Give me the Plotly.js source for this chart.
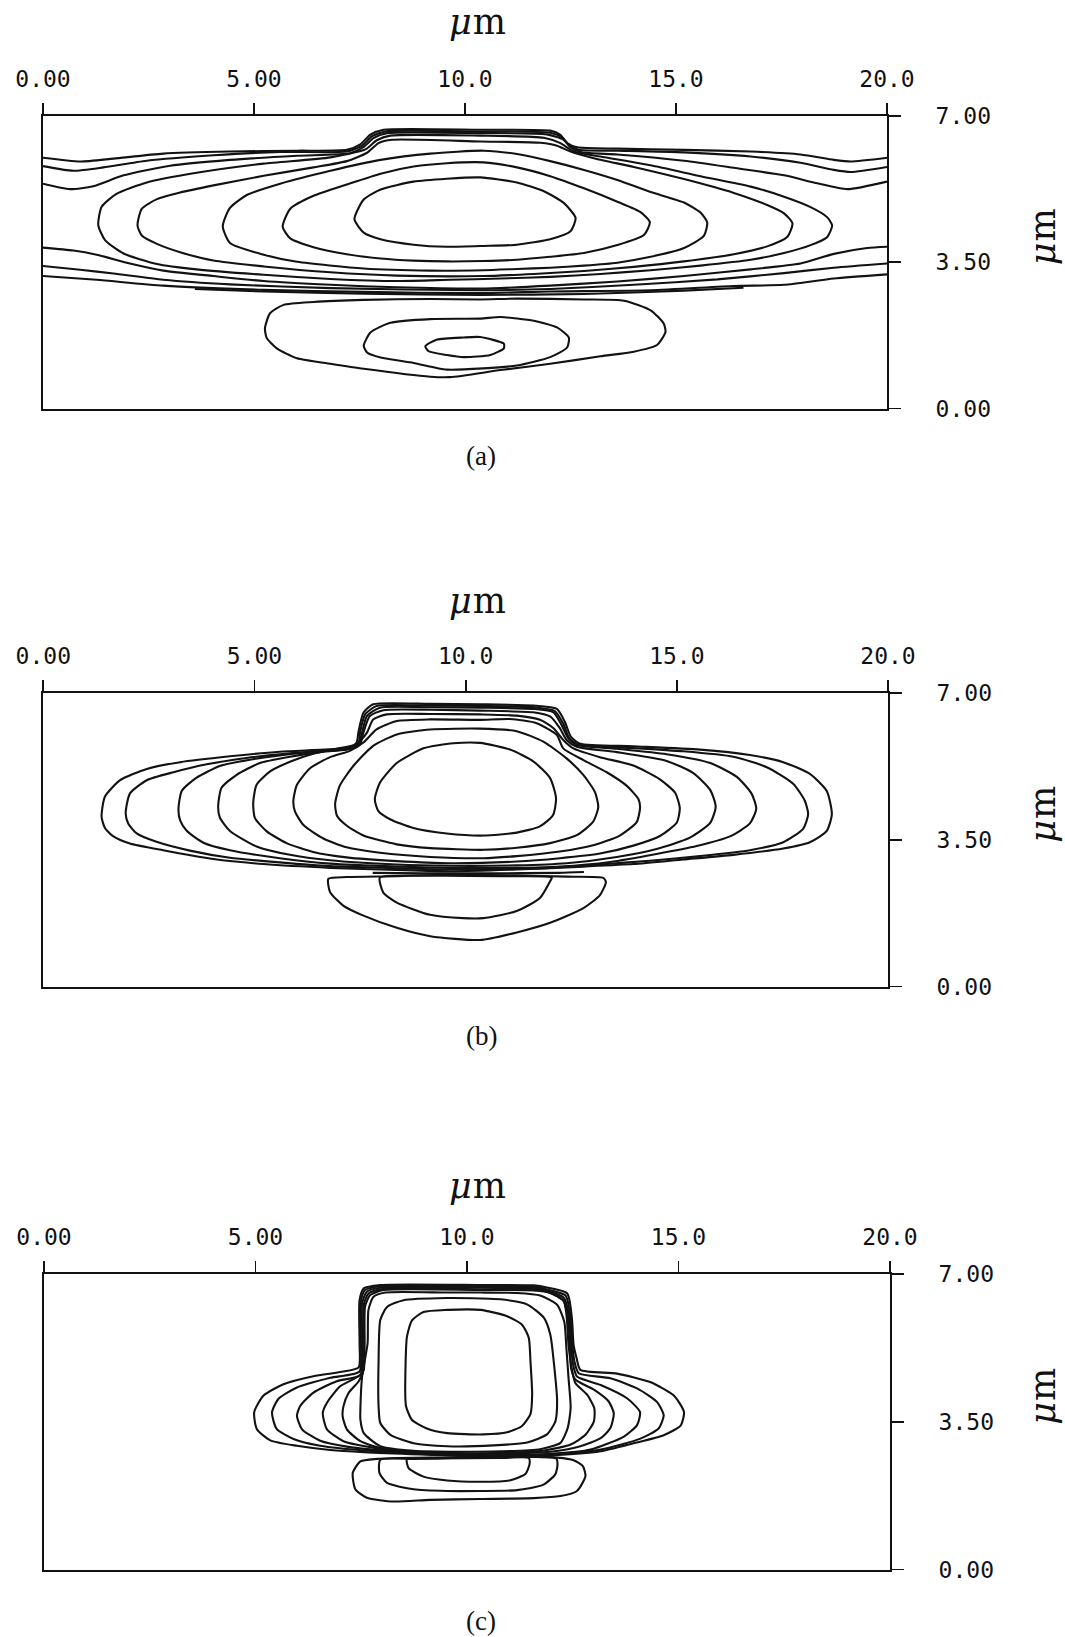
<!DOCTYPE html>
<html>
<head>
<meta charset="utf-8">
<script src="https://cdn.plot.ly/plotly-3.0.1.min.js"></script>
<style>
  html, body { margin: 0; padding: 0; background: #ffffff; }
  #chart { width: 1065px; height: 1637px; }
</style>
</head>
<body>
<div id="chart"></div>
<script>
// ---------- tick labels ----------
const xTickVals = [0, 5, 10, 15, 20];
const xTickText = ['0.00', '5.00', '10.0', '15.0', '20.0'];
const yTickVals = [0, 3.5, 7];
const yTickText = ['0.00', '3.50', '7.00'];
const panelLabels = ['(a)', '(b)', '(c)'];

// ---------- panel (a) contour lines (x, y in micrometres) ----------
const a_T1_x = [0,0.88,1.67,2.85,4.43,6.02,7.20,7.52,7.75,8.07,10.36,12.02,12.26,12.42,12.66,13.61,15.19,16.77,17.95,18.74,19.14,20];
const a_T1_y = [6.00,5.91,5.98,6.10,6.15,6.17,6.19,6.32,6.55,6.67,6.67,6.65,6.55,6.35,6.25,6.22,6.19,6.15,6.08,5.95,5.91,6.00];
const a_T2_x = [0,0.72,1.43,2.46,4.04,5.62,7.20,7.56,7.79,8.11,10.36,12.02,12.30,12.46,12.69,13.61,15.19,16.77,17.95,18.74,19.14,20];
const a_T2_y = [5.80,5.69,5.77,5.93,6.06,6.14,6.15,6.29,6.51,6.63,6.63,6.60,6.49,6.31,6.19,6.17,6.13,6.03,5.88,5.71,5.66,5.78];
const a_T3_x = [0,0.64,1.19,1.91,3.01,4.43,6.02,7.28,7.60,7.83,8.15,10.36,11.94,12.34,12.50,12.77,13.61,15.19,16.37,17.56,18.35,19.06,20];
const a_T3_y = [5.38,5.25,5.32,5.58,5.81,5.95,6.05,6.11,6.26,6.47,6.59,6.59,6.56,6.43,6.25,6.13,6.08,5.93,5.76,5.58,5.39,5.25,5.43];
const a_L5_x = [1.31,1.39,1.75,2.46,3.64,5.23,6.81,7.64,7.91,8.23,10.36,11.87,12.26,12.58,13.21,14.40,15.58,16.77,17.56,18.19,18.58,18.70,18.58,18.19,17.56,16.77,15.58,14.40,13.21,12.02,10.84,9.65,8.39,6.81,5.23,3.64,2.70,1.91,1.47,1.31];
const a_L5_y = [4.39,4.83,5.14,5.41,5.64,5.86,6.01,6.20,6.42,6.53,6.53,6.48,6.35,6.15,6.03,5.82,5.56,5.31,5.07,4.82,4.58,4.38,4.10,3.91,3.72,3.56,3.42,3.31,3.22,3.15,3.11,3.08,3.05,3.10,3.20,3.33,3.46,3.71,4.03,4.39];
const a_L4_x = [2.24,2.34,2.70,3.25,4.04,5.23,6.41,7.20,7.68,7.95,8.27,10.36,11.79,12.18,12.50,13.05,14.0,15.19,16.37,17.16,17.56,17.76,17.64,17.16,16.37,15.19,14.0,12.82,11.63,10.44,8.39,6.81,5.23,4.04,3.25,2.70,2.34,2.24];
const a_L4_y = [4.38,4.78,5.01,5.17,5.34,5.57,5.77,5.92,6.12,6.35,6.43,6.39,6.36,6.29,6.15,5.99,5.78,5.49,5.16,4.87,4.67,4.43,4.11,3.88,3.69,3.52,3.39,3.29,3.22,3.17,3.18,3.26,3.40,3.54,3.74,3.94,4.14,4.38];
const a_L3_x = [4.26,4.43,4.83,5.62,6.81,8.0,9.18,10.44,11.23,12.02,12.82,13.61,14.40,15.19,15.58,15.74,15.66,15.19,14.40,13.61,12.82,12.02,11.23,10.44,9.18,7.60,6.02,5.23,4.43,4.26];
const a_L3_y = [4.36,4.80,5.11,5.38,5.69,5.95,6.10,6.17,6.09,5.92,5.71,5.47,5.18,4.93,4.69,4.45,4.13,3.84,3.63,3.49,3.42,3.37,3.34,3.31,3.30,3.35,3.51,3.68,3.96,4.36];
const a_L2_x = [5.68,5.86,6.41,7.20,8.0,8.78,9.57,10.44,11.23,12.02,12.82,13.61,14.16,14.38,14.24,13.61,12.82,12.02,11.23,10.44,9.57,8.78,8.0,7.20,6.41,5.86,5.68];
const a_L2_y = [4.35,4.78,5.09,5.36,5.62,5.79,5.87,5.89,5.77,5.56,5.27,4.95,4.70,4.46,4.15,3.91,3.72,3.63,3.56,3.53,3.52,3.54,3.59,3.69,3.86,4.07,4.35];
const a_L1_x = [7.38,7.60,8.0,8.78,9.57,10.36,11.23,11.87,12.34,12.62,12.50,12.02,11.23,10.44,9.57,8.78,8.0,7.60,7.38];
const a_L1_y = [4.53,5.0,5.24,5.43,5.50,5.53,5.41,5.20,4.92,4.56,4.24,4.05,3.92,3.89,3.87,3.92,4.05,4.21,4.53];
const a_B1_x = [0,0.72,1.27,2.06,2.85,4.04,5.23,6.81,8.39,10.36,12.02,13.61,15.19,16.77,17.95,18.74,19.53,20];
const a_B1_y = [3.85,3.78,3.68,3.47,3.30,3.17,3.05,2.96,2.90,2.87,2.94,3.04,3.17,3.33,3.47,3.70,3.84,3.87];
const a_B2_x = [0,0.88,1.67,2.85,4.43,6.81,10.36,12.02,14.0,15.98,17.56,18.74,20];
const a_B2_y = [3.41,3.32,3.23,3.08,2.97,2.88,2.83,2.86,2.96,3.09,3.24,3.37,3.47];
const a_B3_x = [0,1.27,2.85,5.23,7.60,10.36,12.02,14.40,16.37,17.56,18.74,20];
const a_B3_y = [3.17,3.08,2.94,2.84,2.79,2.76,2.80,2.83,2.93,2.96,3.11,3.21];
const a_B4_x = [3.6,5.23,7.60,10.36,12.82,15.19,16.6];
const a_B4_y = [2.86,2.80,2.75,2.72,2.74,2.82,2.89];
const a_D1_x = [5.26,5.38,5.70,6.41,7.60,9.18,10.36,11.23,12.82,13.77,14.40,14.71,14.75,14.55,14.0,13.21,12.02,10.84,9.65,9.18,7.60,6.81,6.02,5.54,5.30,5.26];
const a_D1_y = [1.92,2.28,2.48,2.55,2.60,2.62,2.61,2.63,2.61,2.58,2.35,2.03,1.83,1.52,1.36,1.25,1.07,0.92,0.75,0.76,0.95,1.07,1.20,1.44,1.69,1.92];
const a_D2_x = [7.60,7.76,8.23,9.18,10.36,10.84,11.63,12.18,12.46,12.42,12.02,11.23,10.44,9.57,8.78,8.0,7.68,7.60];
const a_D2_y = [1.50,1.82,2.05,2.14,2.15,2.19,2.10,1.94,1.70,1.46,1.23,1.03,0.96,0.93,1.09,1.22,1.34,1.50];
const a_D3_x = [9.06,9.34,9.97,10.36,10.92,10.92,10.60,9.97,9.57,9.14,9.06];
const a_D3_y = [1.49,1.65,1.70,1.71,1.55,1.44,1.28,1.23,1.28,1.37,1.49];

// ---------- panel (b) contour lines ----------
const b_L1_x = [7.85,7.97,8.37,9.0,9.71,10.34,11.05,11.6,12.0,12.14,12.07,11.76,11.21,10.42,9.55,8.76,8.21,7.93,7.85];
const b_L1_y = [4.47,4.86,5.33,5.68,5.80,5.81,5.65,5.37,4.97,4.49,4.09,3.82,3.67,3.60,3.65,3.78,3.99,4.19,4.47];
const b_L2_x = [6.91,7.02,7.34,7.81,8.37,9.16,10.34,11.21,11.84,12.39,12.79,13.06,13.14,13.02,12.63,12.0,11.21,10.42,9.16,8.37,7.58,7.18,6.95,6.91];
const b_L2_y = [4.36,4.79,5.26,5.74,6.01,6.13,6.15,6.09,5.84,5.44,5.04,4.64,4.28,3.93,3.61,3.42,3.31,3.26,3.30,3.39,3.60,3.84,4.08,4.36];
const b_L3_x = [5.92,6.0,6.31,6.79,7.26,7.58,7.89,8.37,9.16,10.34,11.05,11.68,12.16,12.31,12.79,13.34,13.81,14.09,14.13,14.05,13.65,13.02,12.23,11.21,10.42,9.16,7.97,7.18,6.63,6.16,5.96,5.92];
const b_L3_y = [4.41,4.80,5.20,5.47,5.62,5.82,6.13,6.33,6.37,6.36,6.38,6.28,6.0,5.68,5.40,5.11,4.79,4.47,4.27,3.92,3.60,3.37,3.22,3.11,3.06,3.09,3.19,3.32,3.53,3.85,4.17,4.41];
const b_L4_x = [4.97,5.05,5.37,5.84,6.39,6.95,7.42,7.66,7.81,8.13,9.16,10.34,11.21,11.76,12.08,12.31,12.55,13.18,13.97,14.6,14.96,15.07,15.0,14.6,13.97,13.18,12.23,11.21,9.63,8.37,7.18,6.39,5.76,5.29,5.01,4.97];
const b_L4_y = [4.38,4.81,5.13,5.36,5.55,5.67,5.78,6.05,6.37,6.49,6.50,6.49,6.46,6.36,6.16,5.88,5.68,5.47,5.27,4.94,4.62,4.26,3.91,3.59,3.36,3.17,3.06,2.98,2.94,2.99,3.08,3.21,3.42,3.70,4.02,4.38];
const b_L5_x = [4.14,4.22,4.58,5.13,5.84,6.55,7.18,7.50,7.58,7.73,8.05,9.16,10.34,11.60,12.0,12.23,12.39,12.63,13.58,14.76,15.39,15.79,15.92,15.79,15.31,14.52,13.58,12.39,11.21,9.63,8.37,6.79,5.84,5.05,4.42,4.18,4.14];
const b_L5_y = [4.30,4.74,5.05,5.33,5.48,5.59,5.66,5.78,6.06,6.45,6.59,6.60,6.58,6.54,6.44,6.16,5.88,5.72,5.59,5.38,5.09,4.69,4.29,3.90,3.55,3.28,3.09,2.94,2.89,2.88,2.91,3.01,3.14,3.34,3.71,4.03,4.30];
const b_L6_x = [3.20,3.28,3.63,4.18,4.89,5.68,6.47,7.18,7.46,7.54,7.66,7.97,9.16,10.34,11.60,12.08,12.27,12.43,12.63,13.58,14.76,15.79,16.42,16.77,16.88,16.73,16.26,15.47,14.52,13.42,12.23,11.21,9.63,8.37,6.79,5.60,4.42,3.79,3.39,3.24,3.20];
const b_L6_y = [4.23,4.67,4.98,5.26,5.41,5.52,5.61,5.65,5.74,6.02,6.45,6.65,6.66,6.65,6.62,6.54,6.24,5.92,5.76,5.67,5.54,5.33,5.0,4.60,4.24,3.89,3.58,3.35,3.16,2.97,2.86,2.83,2.83,2.86,2.93,3.06,3.25,3.43,3.72,3.96,4.23];
const b_L7_x = [1.95,2.05,2.45,3.08,3.87,4.81,5.84,6.79,7.26,7.46,7.50,7.62,7.89,9.16,10.34,11.60,12.11,12.31,12.45,12.66,13.58,15.15,16.34,17.13,17.76,18.03,18.11,17.99,17.52,16.73,15.55,14.36,13.18,12.0,10.81,9.63,8.37,6.79,5.60,4.42,3.47,2.68,2.21,2.01,1.95];
const b_L7_y = [4.13,4.60,4.92,5.11,5.30,5.45,5.56,5.63,5.68,5.78,6.06,6.49,6.69,6.70,6.69,6.66,6.57,6.27,5.93,5.77,5.71,5.61,5.48,5.23,4.83,4.43,4.11,3.76,3.44,3.25,3.11,3.0,2.91,2.83,2.80,2.79,2.82,2.87,2.96,3.07,3.24,3.45,3.65,3.89,4.13];
const b_L8_x = [1.38,1.46,1.82,2.45,3.24,4.42,5.60,6.63,7.26,7.42,7.46,7.58,7.81,9.16,10.34,11.60,12.16,12.35,12.49,12.71,13.97,15.55,16.73,17.52,18.15,18.55,18.67,18.55,18.15,17.52,16.34,15.15,13.97,12.79,11.21,9.63,8.37,6.79,5.21,4.03,2.84,2.05,1.66,1.46,1.38];
const b_L8_y = [4.05,4.53,4.92,5.19,5.35,5.49,5.60,5.65,5.70,5.82,6.06,6.53,6.73,6.74,6.73,6.70,6.62,6.31,5.96,5.79,5.73,5.65,5.52,5.35,5.07,4.66,4.11,3.71,3.44,3.29,3.14,3.03,2.92,2.86,2.79,2.75,2.78,2.83,2.92,3.04,3.25,3.41,3.58,3.78,4.05];
const b_B1_x = [7.8,9.0,10.5,12.2,12.8];
const b_B1_y = [2.71,2.70,2.70,2.71,2.73];
const b_D1_x = [6.75,6.79,7.10,7.58,8.37,9.16,10.34,11.21,12.0,12.79,13.18,13.32,13.26,12.39,11.21,9.63,8.37,7.18,6.75];
const b_D1_y = [2.57,2.25,1.93,1.69,1.40,1.20,1.11,1.29,1.52,1.87,2.18,2.49,2.59,2.62,2.65,2.67,2.63,2.61,2.57];
const b_D2_x = [7.97,8.05,8.37,9.16,9.94,10.42,11.21,11.76,12.0,12.04,10.81,9.16,7.97];
const b_D2_y = [2.60,2.24,2.0,1.71,1.63,1.63,1.80,2.11,2.51,2.60,2.63,2.64,2.60];

// ---------- panel (c) contour lines ----------
const c_L1_x = [8.54,8.58,8.70,8.97,9.53,10.32,10.95,11.30,11.46,11.50,11.54,11.50,11.30,10.95,10.39,9.53,9.05,8.70,8.56,8.54];
const c_L1_y = [4.17,5.51,5.90,6.10,6.15,6.15,6.0,5.80,5.49,4.94,4.15,3.68,3.40,3.25,3.20,3.23,3.34,3.54,3.86,4.17];
const c_L2_x = [7.91,7.91,7.95,8.11,8.50,9.53,10.32,10.79,11.42,11.82,11.97,12.05,12.13,12.09,11.89,11.42,10.63,9.53,8.74,8.19,7.95,7.91];
const c_L2_y = [3.86,4.96,5.91,6.22,6.38,6.43,6.42,6.40,6.28,5.96,5.56,4.93,3.99,3.51,3.20,3.01,2.94,2.92,2.99,3.19,3.47,3.86];
const c_L3_x = [7.48,7.52,7.65,7.67,7.79,8.07,9.53,10.32,11.18,11.73,12.13,12.30,12.35,12.40,12.45,12.38,12.21,11.73,10.79,9.61,8.74,7.95,7.56,7.48,7.48];
const c_L3_y = [3.82,4.57,5.36,6.15,6.46,6.56,6.56,6.56,6.55,6.49,6.27,5.87,5.24,4.54,3.83,3.35,3.0,2.85,2.80,2.79,2.81,2.92,3.23,3.55,3.82];
const c_L4_x = [10.32,8.03,7.71,7.59,7.58,7.56,7.44,7.20,7.08,7.06,7.16,7.48,7.95,8.74,10.32,11.82,12.45,12.80,13.0,13.01,12.84,12.56,12.49,12.40,12.36,12.29,11.97,11.58,10.32];
const c_L4_y = [6.62,6.62,6.50,6.23,5.36,4.73,4.46,4.18,3.87,3.63,3.32,3.04,2.88,2.79,2.75,2.82,2.96,3.19,3.51,3.82,4.14,4.42,4.69,5.32,5.95,6.35,6.55,6.61,6.62];
const c_L5_x = [10.32,8.03,7.67,7.56,7.55,7.52,7.0,6.69,6.59,6.69,7.08,7.95,8.74,10.32,11.97,12.68,13.16,13.39,13.47,13.35,13.0,12.56,12.46,12.43,12.39,12.27,11.93,11.58,10.32];
const c_L5_y = [6.64,6.65,6.54,6.27,5.36,4.65,4.34,3.95,3.71,3.32,3.04,2.86,2.77,2.74,2.79,2.92,3.11,3.35,3.70,3.98,4.26,4.50,4.77,5.32,5.95,6.39,6.57,6.64,6.64];
const c_L6_x = [10.32,7.99,7.63,7.52,7.52,7.48,6.92,6.37,6.06,5.98,6.10,6.53,7.16,8.34,10.32,11.97,12.92,13.71,14.02,14.09,13.79,13.16,12.60,12.51,12.46,12.42,12.29,11.89,11.58,10.32];
const c_L6_y = [6.68,6.68,6.58,6.30,5.36,4.61,4.46,4.19,3.88,3.64,3.32,3.05,2.91,2.79,2.71,2.74,2.84,3.15,3.42,3.73,4.05,4.37,4.57,4.85,5.32,5.95,6.44,6.60,6.67,6.68];
const c_L7_x = [10.32,7.95,7.59,7.49,7.49,7.46,6.77,5.98,5.54,5.39,5.50,5.90,6.53,7.56,10.32,11.97,13.16,14.10,14.53,14.65,14.49,14.02,13.39,12.64,12.54,12.49,12.45,12.33,11.89,11.58,10.32];
const c_L7_y = [6.71,6.71,6.62,6.34,5.36,4.69,4.54,4.31,4.04,3.72,3.33,3.09,2.93,2.82,2.70,2.73,2.84,3.10,3.34,3.65,3.97,4.29,4.53,4.65,4.93,5.32,5.95,6.49,6.63,6.70,6.71];
const c_L8_x = [10.32,7.95,7.56,7.46,7.46,7.44,7.08,6.37,5.66,5.19,4.97,5.03,5.35,5.98,6.77,7.56,10.32,11.97,13.16,13.94,14.65,15.05,15.13,14.89,14.33,13.55,12.68,12.59,12.52,12.48,12.37,11.89,11.58,10.32];
const c_L8_y = [6.74,6.74,6.66,6.38,5.36,4.79,4.69,4.58,4.39,4.12,3.73,3.33,3.06,2.93,2.83,2.78,2.68,2.70,2.80,2.99,3.18,3.41,3.73,4.12,4.44,4.64,4.73,5.01,5.32,5.95,6.54,6.68,6.73,6.74];
const c_D1_x = [7.87,7.48,7.30,7.36,7.63,8.27,9.13,10.32,11.58,12.21,12.6,12.80,12.74,12.52,12.13,10.79,9.13,8.34,7.87];
const c_D1_y = [2.62,2.56,2.29,1.90,1.70,1.61,1.65,1.67,1.69,1.74,1.86,2.21,2.45,2.59,2.65,2.68,2.65,2.64,2.62];
const c_D2_x = [7.95,7.93,8.11,8.74,9.53,10.32,11.18,11.81,12.09,12.14,12.11,10.79,8.74,7.95];
const c_D2_y = [2.60,2.29,2.05,1.90,1.86,1.86,1.88,2.01,2.26,2.49,2.63,2.66,2.62,2.60];
const c_D3_x = [8.58,8.62,8.97,9.53,10.32,11.0,11.38,11.48,11.46,10.79,9.13,8.58];
const c_D3_y = [2.61,2.40,2.20,2.11,2.08,2.11,2.26,2.50,2.64,2.64,2.63,2.61];

// ---------- build traces ----------
const INK = '#121212';
function curve(xs, ys, xa, ya) {
  return {
    type: 'scatter', mode: 'lines', x: xs, y: ys, xaxis: xa, yaxis: ya,
    line: { color: INK, width: 2.1, shape: 'spline', smoothing: 0.6 },
    hoverinfo: 'skip', showlegend: false
  };
}
const panelA = [[a_T1_x,a_T1_y],[a_T2_x,a_T2_y],[a_T3_x,a_T3_y],[a_L5_x,a_L5_y],[a_L4_x,a_L4_y],[a_L3_x,a_L3_y],[a_L2_x,a_L2_y],[a_L1_x,a_L1_y],[a_B1_x,a_B1_y],[a_B2_x,a_B2_y],[a_B3_x,a_B3_y],[a_B4_x,a_B4_y],[a_D1_x,a_D1_y],[a_D2_x,a_D2_y],[a_D3_x,a_D3_y]];
const panelB = [[b_L1_x,b_L1_y],[b_L2_x,b_L2_y],[b_L3_x,b_L3_y],[b_L4_x,b_L4_y],[b_L5_x,b_L5_y],[b_L6_x,b_L6_y],[b_L7_x,b_L7_y],[b_L8_x,b_L8_y],[b_B1_x,b_B1_y],[b_D1_x,b_D1_y],[b_D2_x,b_D2_y]];
const panelC = [[c_L1_x,c_L1_y],[c_L2_x,c_L2_y],[c_L3_x,c_L3_y],[c_L4_x,c_L4_y],[c_L5_x,c_L5_y],[c_L6_x,c_L6_y],[c_L7_x,c_L7_y],[c_L8_x,c_L8_y],[c_D1_x,c_D1_y],[c_D2_x,c_D2_y],[c_D3_x,c_D3_y]];

const traces = [];
panelA.forEach(p => traces.push(curve(p[0], p[1], 'x', 'y')));
panelB.forEach(p => traces.push(curve(p[0], p[1], 'x2', 'y2')));
panelC.forEach(p => traces.push(curve(p[0], p[1], 'x3', 'y3')));

// ---------- layout ----------
const W = 1065, H = 1637;
const tickFont = { family: 'DejaVu Sans Mono, monospace', size: 23, color: '#111' };
function xAxis(left, right, anchor) {
  return {
    domain: [left / W, right / W], range: [0, 20], side: 'top', anchor: anchor,
    tickmode: 'array', tickvals: xTickVals, ticktext: xTickText,
    ticks: 'outside', ticklen: 11, tickwidth: 1.8, tickcolor: INK,
    ticklabelstandoff: 7,
    showline: true, linecolor: INK, linewidth: 2, mirror: true,
    showgrid: false, zeroline: false, tickfont: tickFont, fixedrange: true
  };
}
function yAxis(top, bottom, anchor) {
  return {
    domain: [(H - bottom) / H, (H - top) / H], range: [0, 7], side: 'right', anchor: anchor,
    tickmode: 'array', tickvals: yTickVals, ticktext: yTickText,
    ticks: 'outside', ticklen: 12, tickwidth: 1.8, tickcolor: INK,
    ticklabelstandoff: 30,
    showline: true, linecolor: INK, linewidth: 2, mirror: true,
    showgrid: false, zeroline: false, tickfont: tickFont, fixedrange: true
  };
}
const panelBoxes = [
  { left: 43, right: 887, top: 116, bottom: 408.5, unitGap: 94 },
  { left: 43.3, right: 888, top: 693, bottom: 986.5, unitGap: 92 },
  { left: 44, right: 890, top: 1274, bottom: 1569.5, unitGap: 88 }
];
const captionY = [456, 1036, 1621];

const annotations = [];
const unitFont = { family: 'DejaVu Serif, Liberation Serif, serif', size: 35, color: '#111' };
const unitText = '<span style="letter-spacing:1px"><i>\u03bc</i>m</span>';
panelBoxes.forEach((b, i) => {
  annotations.push({
    xref: 'paper', yref: 'paper', x: 478 / W, y: (H - (b.top - b.unitGap)) / H,
    xanchor: 'center', yanchor: 'middle', showarrow: false,
    text: unitText, font: unitFont
  });
  const cy = (b.top + b.bottom) / 2 - 26;
  annotations.push({
    xref: 'paper', yref: 'paper', x: 1043 / W, y: (H - cy) / H,
    xanchor: 'center', yanchor: 'middle', showarrow: false, textangle: -90,
    text: unitText, font: unitFont
  });
  annotations.push({
    xref: 'paper', yref: 'paper', x: 481 / W, y: (H - captionY[i]) / H,
    xanchor: 'center', yanchor: 'middle', showarrow: false,
    text: panelLabels[i], font: { family: 'Liberation Serif, serif', size: 27, color: '#111' }
  });
});

const layout = {
  width: W, height: H,
  margin: { l: 0, r: 0, t: 0, b: 0, pad: 0 },
  paper_bgcolor: '#ffffff', plot_bgcolor: '#ffffff',
  showlegend: false,
  xaxis: xAxis(panelBoxes[0].left, panelBoxes[0].right, 'y'),
  yaxis: yAxis(panelBoxes[0].top, panelBoxes[0].bottom, 'x'),
  xaxis2: xAxis(panelBoxes[1].left, panelBoxes[1].right, 'y2'),
  yaxis2: yAxis(panelBoxes[1].top, panelBoxes[1].bottom, 'x2'),
  xaxis3: xAxis(panelBoxes[2].left, panelBoxes[2].right, 'y3'),
  yaxis3: yAxis(panelBoxes[2].top, panelBoxes[2].bottom, 'x3'),
  annotations: annotations
};

Plotly.newPlot('chart', traces, layout, { staticPlot: true, displayModeBar: false });
</script>
</body>
</html>
